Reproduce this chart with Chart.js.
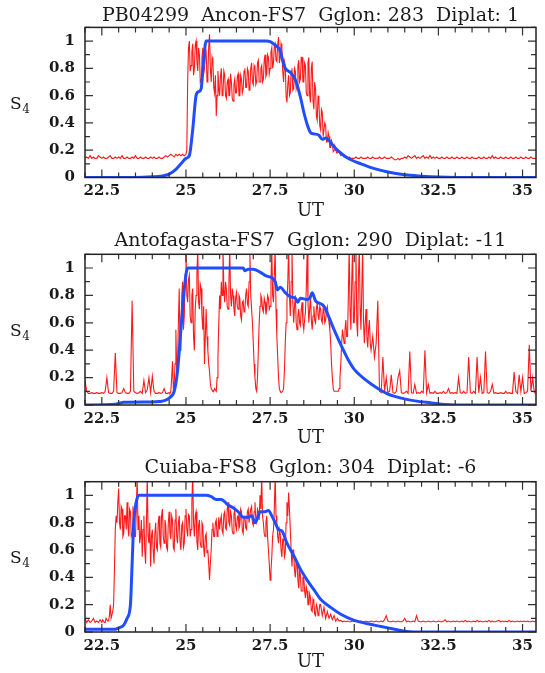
<!DOCTYPE html>
<html><head><meta charset="utf-8">
<script src="https://cdn.jsdelivr.net/npm/chart.js@4/dist/chart.umd.min.js"></script>
<style>
html,body{margin:0;padding:0;background:#fff;width:545px;height:673px;overflow:hidden}
.panel{position:absolute;left:0;width:545px}
</style></head><body>
<script>
// ---- axis values ----
const utTicks = [22.5, 25, 27.5, 30, 32.5, 35];
const s4Ticks = [0, 0.2, 0.4, 0.6, 0.8, 1];
const utRange = [22, 35.4];
const s4Range = [0, 1.1];
const utMinorStep = 0.5;
const s4MinorStep = 0.1;

// ---- panel titles ----
const panelTitles = [
  'PB04299  Ancon-FS7  Gglon: 283  Diplat: 1',
  'Antofagasta-FS7  Gglon: 290  Diplat: -11',
  'Cuiaba-FS8  Gglon: 304  Diplat: -6'
];

// ---- observed S4 (red) ----
// quiet parts sampled every 0.05 h, scintillation bursts every 0.025 h
const quietStep = 0.05;
const burstStep = 0.025;

// Ancon
const anconPreStart = 22.0;
const anconPre = [
  0.14,0.15,0.14,0.16,0.14,0.15,0.14,0.14,0.16,0.15, // 22.0
  0.14,0.15,0.14,0.14,0.15,0.16,0.14,0.14,0.15,0.14, // 22.5
  0.15,0.14,0.16,0.14,0.14,0.15,0.14,0.14,0.15,0.14, // 23.0
  0.16,0.14,0.14,0.15,0.14,0.14,0.15,0.14,0.14,0.15, // 23.5
  0.14,0.15,0.14,0.14,0.15,0.14,0.14,0.15,0.16,0.15, // 24.0
  0.16,0.17,0.16,0.15,0.17,0.16,0.17,0.16,0.17,0.16  // 24.5
];
const anconBurstStart = 25.0;
const anconBurst = [
  0.17,0.2,0.7,0.95,1.0,0.78,0.82,0.92,0.98,0.75,0.8,0.97,1.0,0.85,0.78,0.95,0.9,0.7,0.72,0.88, // 25.0
  0.95,0.76,0.8,0.9,0.92,0.7,0.75,0.96,1.05,0.8,0.7,0.88,0.85,0.66,0.62,0.75,0.45,0.6,0.78,0.66, // 25.5
  0.6,0.74,0.8,0.6,0.62,0.78,0.75,0.6,0.58,0.7,0.72,0.6,0.6,0.76,0.7,0.58,0.56,0.68,0.72,0.62, // 26.0
  0.62,0.74,0.76,0.6,0.6,0.75,0.72,0.62,0.65,0.78,0.8,0.66,0.66,0.8,0.78,0.64,0.65,0.8,0.84,0.7, // 26.5
  0.68,0.82,0.8,0.68,0.7,0.84,0.86,0.7,0.7,0.8,0.82,0.7,0.72,0.86,0.9,0.74,0.76,0.9,0.88,0.76, // 27.0
  0.8,0.92,0.95,0.8,0.84,0.96,0.98,0.86,0.85,0.97,1.03,0.84,0.88,0.98,0.95,0.78,0.7,0.85,0.82,0.6, // 27.5
  0.55,0.68,0.75,0.6,0.62,0.78,0.8,0.64,0.65,0.8,0.78,0.65,0.68,0.82,0.86,0.7,0.72,0.88,0.88,0.7, // 28.0
  0.7,0.84,0.82,0.62,0.6,0.84,0.88,0.6,0.55,0.8,0.85,0.56,0.5,0.7,0.65,0.45,0.42,0.6,0.55,0.38, // 28.5
  0.35,0.5,0.48,0.3,0.3,0.4,0.38,0.26,0.26,0.33,0.3,0.22,0.22,0.27,0.25,0.19,0.2,0.23,0.21,0.18  // 29.0
];
const anconPostStart = 29.5;
const anconPost = [
  0.18,0.19,0.16,0.17,0.15,0.15,0.14,0.15,0.14,0.14, // 29.5
  0.14,0.15,0.14,0.14,0.15,0.14,0.14,0.14,0.15,0.14, // 30.0
  0.14,0.15,0.14,0.14,0.14,0.15,0.14,0.14,0.15,0.14, // 30.5
  0.14,0.14,0.15,0.14,0.13,0.13,0.14,0.13,0.14,0.14, // 31.0
  0.15,0.14,0.16,0.15,0.14,0.15,0.16,0.14,0.15,0.14, // 31.5
  0.15,0.16,0.14,0.15,0.14,0.16,0.14,0.15,0.14,0.15, // 32.0
  0.14,0.14,0.15,0.14,0.14,0.15,0.14,0.14,0.15,0.14, // 32.5
  0.14,0.15,0.14,0.14,0.15,0.14,0.14,0.15,0.14,0.14, // 33.0
  0.15,0.14,0.14,0.14,0.15,0.14,0.14,0.15,0.14,0.14, // 33.5
  0.15,0.14,0.16,0.14,0.15,0.14,0.14,0.15,0.14,0.14, // 34.0
  0.15,0.14,0.14,0.15,0.14,0.14,0.15,0.14,0.14,0.15, // 34.5
  0.14,0.14,0.15,0.14,0.14,0.15,0.14,0.14,0.14,0.14  // 35.0
];

// Antofagasta
const antofPreStart = 22.0;
const antofPre = [
  0.18,0.1,0.085,0.085,0.09,0.085,0.085,0.09,0.085,0.085, // 22.0
  0.09,0.085,0.1,0.2,0.09,0.085,0.085,0.1,0.38,0.09,      // 22.5
  0.085,0.085,0.09,0.12,0.09,0.085,0.085,0.1,0.76,0.1,    // 23.0
  0.09,0.085,0.09,0.1,0.085,0.18,0.09,0.11,0.2,0.09,      // 23.5
  0.21,0.1,0.085,0.085,0.09,0.085,0.09,0.12,0.085,0.085   // 24.0
];
const antofBurstStart = 24.5;
const antofBurst = [
  0.09,0.085,0.1,0.2,0.32,0.12,0.15,0.3,0.55,0.25,0.3,0.6,0.85,0.4,0.5,0.8,0.9,0.55,0.65,0.95, // 24.5
  1.15,0.8,0.75,0.92,0.95,0.65,0.6,0.8,0.85,0.5,0.4,0.7,0.8,0.95,1.15,0.75,0.7,0.88,0.85,0.65, // 25.0
  0.55,0.72,0.3,0.5,0.7,0.5,0.4,0.3,0.25,0.15,0.12,0.11,0.1,0.1,0.12,0.11,0.1,0.2,0.35,0.6,    // 25.5
  0.8,0.7,0.9,0.8,1.15,0.85,0.75,0.9,0.85,0.72,0.7,0.88,1.15,0.8,0.72,0.85,0.8,0.7,0.65,0.78,  // 26.0
  0.82,0.72,0.7,0.8,0.78,0.65,0.62,0.75,0.76,0.68,0.7,0.8,0.85,0.74,0.72,0.9,1.1,0.8,0.7,0.6,  // 26.5
  0.45,0.3,0.2,0.12,0.1,0.2,0.4,0.6,0.72,0.8,0.78,0.7,0.68,0.78,0.75,0.66,0.7,0.8,0.78,0.7,    // 27.0
  0.72,0.9,1.15,0.8,0.75,0.95,1.15,0.7,0.5,0.35,0.2,0.12,0.1,0.09,0.09,0.1,0.12,0.25,0.45,0.6, // 27.5
  0.75,0.9,1.15,0.8,0.65,0.9,1.15,0.75,0.6,0.72,0.8,0.6,0.55,0.65,0.7,0.6,0.58,0.7,0.75,0.6,   // 28.0
  0.55,0.62,0.68,0.85,1.1,0.75,0.6,0.7,0.8,0.62,0.55,0.65,0.72,0.62,0.6,0.7,0.75,0.66,0.62,0.72, // 28.5
  0.7,0.62,0.6,0.7,0.68,0.6,0.62,0.7,0.72,0.65,0.6,0.55,0.45,0.3,0.2,0.12,0.1,0.1,0.1,0.1,     // 29.0
  0.1,0.1,0.12,0.2,0.3,0.45,0.55,0.5,0.45,0.55,0.62,0.5,0.5,0.8,1.15,0.7,0.55,0.9,1.15,0.6,    // 29.5
  0.6,0.9,1.15,0.6,0.5,0.95,1.15,0.7,0.55,0.85,1.15,0.6,0.45,0.6,0.7,0.5,0.42,0.55,0.62,0.45   // 30.0
];
const antofPostStart = 30.5;
const antofPost = [
  0.4,0.5,0.35,0.45,0.76,0.1,0.09,0.35,0.1,0.2,           // 30.5
  0.09,0.1,0.22,0.09,0.085,0.1,0.2,0.25,0.09,0.085,       // 31.0
  0.09,0.1,0.085,0.39,0.09,0.085,0.15,0.085,0.09,0.085,   // 31.5
  0.1,0.09,0.4,0.09,0.15,0.085,0.09,0.085,0.1,0.085,      // 32.0
  0.085,0.09,0.085,0.1,0.085,0.09,0.12,0.085,0.09,0.085,  // 32.5
  0.09,0.085,0.2,0.09,0.085,0.1,0.085,0.09,0.35,0.09,     // 33.0
  0.085,0.1,0.085,0.35,0.09,0.2,0.085,0.09,0.39,0.09,     // 33.5
  0.085,0.1,0.15,0.085,0.09,0.085,0.085,0.09,0.085,0.085, // 34.0
  0.1,0.085,0.09,0.085,0.085,0.24,0.1,0.085,0.22,0.1,     // 34.5
  0.2,0.085,0.09,0.1,0.44,0.1,0.2,0.09,0.085,0.09         // 35.0
];

// Cuiaba
const cuiabaPreStart = 22.0;
const cuiabaPre = [
  0.1,0.07,0.09,0.07,0.08,0.1,0.07,0.08,0.07,0.09         // 22.0
];
const cuiabaBurstStart = 22.5;
const cuiabaBurst = [
  0.07,0.09,0.08,0.07,0.07,0.1,0.1,0.08,0.08,0.12,0.2,0.1,0.1,0.15,0.2,0.45,0.75,0.85,0.8,0.95, // 22.5
  1.05,0.8,0.75,0.92,0.9,0.7,0.72,0.85,0.85,0.75,0.95,0.78,0.7,0.9,0.88,0.7,0.72,0.92,0.8,0.7,  // 23.0
  0.7,0.9,1.15,0.75,0.85,0.65,0.7,0.82,0.55,0.75,0.85,0.6,0.5,0.8,1.15,0.7,0.65,0.8,0.48,0.7,   // 23.5
  0.75,0.6,0.5,0.72,0.8,0.62,0.6,0.8,0.85,0.65,0.62,0.85,0.9,0.7,0.65,0.82,0.78,0.62,0.6,0.8,   // 24.0
  0.88,0.72,0.68,0.85,0.82,0.62,0.6,0.82,0.9,0.7,0.65,0.8,0.85,0.66,0.6,0.78,0.8,0.62,0.65,0.85, // 24.5
  0.9,0.75,0.7,0.86,0.85,0.7,0.75,0.95,1.15,0.8,0.7,0.85,0.88,0.66,0.6,0.78,0.82,0.65,0.62,0.8,  // 25.0
  0.78,0.62,0.55,0.7,0.72,0.58,0.6,0.5,0.38,0.5,0.6,0.75,0.8,0.7,0.7,0.8,0.82,0.7,0.72,0.84,    // 25.5
  0.75,0.82,0.85,0.74,0.72,0.86,0.88,0.76,0.75,0.9,0.95,0.8,0.78,0.88,0.85,0.74,0.72,0.86,0.9,0.78, // 26.0
  0.75,0.84,0.85,0.76,0.78,0.9,0.88,0.74,0.72,0.84,0.85,0.76,0.75,0.88,0.9,0.8,0.8,0.9,0.92,0.8, // 26.5
  0.78,0.88,0.95,0.82,0.8,0.9,0.88,0.82,1.0,0.9,1.15,0.85,0.8,0.72,0.7,0.8,0.85,0.7,0.6,0.5,    // 27.0
  0.38,0.45,0.55,0.7,0.75,0.9,1.15,0.85,0.8,0.7,0.65,0.75,0.72,0.6,0.55,0.68,0.68,0.55,0.58,0.8, // 27.5
  0.95,0.85,1.02,0.9,0.75,0.6,0.48,0.6,0.6,0.45,0.4,0.52,0.5,0.38,0.32,0.45,0.42,0.3,0.3,0.4,   // 28.0
  0.4,0.3,0.25,0.33,0.3,0.2,0.2,0.28,0.25,0.16,0.15,0.24,0.22,0.13,0.12,0.2,0.18,0.12,0.14,0.2  // 28.5
];
const cuiabaPostStart = 29.0;
const cuiabaPost = [
  0.2,0.12,0.18,0.1,0.15,0.1,0.13,0.09,0.12,0.08,         // 29.0
  0.1,0.08,0.085,0.075,0.08,0.075,0.08,0.075,0.075,0.08,  // 29.5
  0.075,0.08,0.075,0.075,0.08,0.075,0.075,0.08,0.075,0.075, // 30.0
  0.08,0.075,0.075,0.08,0.075,0.075,0.08,0.075,0.09,0.12, // 30.5
  0.08,0.075,0.075,0.08,0.075,0.075,0.08,0.075,0.075,0.08, // 31.0
  0.1,0.075,0.08,0.075,0.075,0.08,0.075,0.12,0.08,0.075,  // 31.5
  0.075,0.08,0.075,0.075,0.08,0.075,0.075,0.08,0.075,0.075, // 32.0
  0.08,0.075,0.075,0.08,0.09,0.075,0.08,0.075,0.075,0.08, // 32.5
  0.075,0.08,0.075,0.075,0.08,0.075,0.085,0.075,0.08,0.075, // 33.0
  0.075,0.08,0.075,0.085,0.075,0.08,0.075,0.075,0.08,0.075, // 33.5
  0.085,0.075,0.08,0.075,0.075,0.08,0.085,0.075,0.08,0.075, // 34.0
  0.08,0.075,0.085,0.075,0.08,0.075,0.075,0.08,0.075,0.08, // 34.5
  0.075,0.08,0.075,0.08,0.075,0.075,0.08,0.075,0.08,0.075  // 35.0
];

// ---- model S4 (blue) ----
const anconModelUT = [22,23.5,24.0,24.3,24.5,24.7,24.85,25.0,25.1,25.2,25.3,25.38,25.45,25.52,25.6,27.4,27.5,27.6,27.7,27.8,27.88,27.95,28.1,28.2,28.3,28.4,28.5,28.6,28.7,28.8,28.95,29.05,29.15,29.25,29.35,29.5,29.7,29.9,30.2,30.6,31.0,31.5,32.0,32.5,33.0,35.4];
const anconModelS4 = [0,0,0.005,0.012,0.025,0.06,0.1,0.14,0.16,0.35,0.6,0.63,0.65,0.85,1.0,1.0,0.995,0.98,0.96,0.93,0.85,0.8,0.77,0.74,0.68,0.59,0.48,0.39,0.33,0.32,0.31,0.28,0.29,0.27,0.24,0.2,0.16,0.13,0.1,0.065,0.04,0.02,0.01,0.003,0,0];

const antofModelUT = [22,22.9,23.05,23.15,24.0,24.2,24.4,24.55,24.65,24.75,24.85,24.95,25.05,26.7,26.75,26.85,27.0,27.2,27.4,27.55,27.65,27.72,27.8,27.95,28.1,28.25,28.32,28.4,28.6,28.68,28.75,28.85,29.0,29.1,29.25,29.4,29.6,29.8,30.0,30.3,30.7,31.0,31.4,31.8,32.3,32.7,33.0,35.4];
const antofModelS4 = [0,0.005,0.015,0.02,0.022,0.025,0.035,0.06,0.1,0.25,0.55,0.85,1.0,1.0,0.98,0.99,0.99,0.97,0.94,0.93,0.9,0.84,0.86,0.82,0.79,0.78,0.75,0.78,0.77,0.78,0.82,0.76,0.74,0.72,0.64,0.55,0.44,0.34,0.26,0.19,0.12,0.08,0.05,0.03,0.015,0.003,0,0];

const cuiabaModelUT = [22,22.9,23.0,23.15,23.25,23.35,23.4,23.45,23.55,23.62,25.6,25.75,25.9,26.05,26.25,26.4,26.55,26.7,26.85,26.95,27.05,27.15,27.2,27.35,27.45,27.55,27.65,27.75,27.85,28.0,28.2,28.4,28.6,28.8,29.0,29.3,29.6,30.0,30.4,30.8,31.2,31.5,31.8,35.4];
const cuiabaModelS4 = [0.02,0.02,0.03,0.05,0.1,0.2,0.5,0.8,0.98,1.0,1.0,0.99,0.97,0.97,0.93,0.91,0.88,0.84,0.84,0.85,0.8,0.85,0.88,0.88,0.89,0.85,0.8,0.75,0.74,0.65,0.56,0.46,0.38,0.31,0.24,0.18,0.13,0.085,0.06,0.04,0.02,0.005,0,0];

// ---- assemble per panel ----
const obsSegments = [
  [[anconPreStart, quietStep, anconPre], [anconBurstStart, burstStep, anconBurst], [anconPostStart, quietStep, anconPost]],
  [[antofPreStart, quietStep, antofPre], [antofBurstStart, burstStep, antofBurst], [antofPostStart, quietStep, antofPost]],
  [[cuiabaPreStart, quietStep, cuiabaPre], [cuiabaBurstStart, burstStep, cuiabaBurst], [cuiabaPostStart, quietStep, cuiabaPost]]
];
const modelUT = [anconModelUT, antofModelUT, cuiabaModelUT];
const modelS4 = [anconModelS4, antofModelS4, cuiabaModelS4];

// ---- layout of the three stacked panels (pixels) ----
const panelBoxes = [
  {top: 0,   h: 224, tTop: 4.6, tBot: 0,   xH: 46.5, utPad: 2.2},
  {top: 224, h: 226, tTop: 5.6, tBot: 1.9, xH: 45,   utPad: 1.2},
  {top: 450, h: 223, tTop: 6.6, tBot: 2.3, xH: 41,   utPad: 0}
];

const SERIF = '"DejaVu Serif", "Liberation Serif", serif';
const INK = '#1a1a1a';

const frameTicks = {
  id: 'frameTicks',
  afterDatasetsDraw(chart) {
    const {ctx, chartArea: a, scales: {x, y}} = chart;
    ctx.save();
    ctx.strokeStyle = '#333';
    ctx.lineWidth = 1.2;
    ctx.beginPath();
    const k0 = Math.ceil(x.min / utMinorStep - 1e-9), k1 = Math.floor(x.max / utMinorStep + 1e-9);
    for (let k = k0; k <= k1; k++) {
      const v = k * utMinorStep;
      const px = x.getPixelForValue(v);
      const major = utTicks.some(t => Math.abs(t - v) < 1e-6);
      const L = major ? 8 : 5;
      ctx.moveTo(px, a.bottom); ctx.lineTo(px, a.bottom - L);
      ctx.moveTo(px, a.top); ctx.lineTo(px, a.top + L);
    }
    const j0 = Math.ceil(y.min / s4MinorStep - 1e-9), j1 = Math.floor(y.max / s4MinorStep + 1e-9);
    for (let j = j0; j <= j1; j++) {
      const v = j * s4MinorStep;
      const py = y.getPixelForValue(v);
      const major = s4Ticks.some(t => Math.abs(t - v) < 1e-6);
      const L = major ? 8 : 5;
      ctx.moveTo(a.left, py); ctx.lineTo(a.left + L, py);
      ctx.moveTo(a.right, py); ctx.lineTo(a.right - L, py);
    }
    ctx.stroke();
    ctx.lineWidth = 1.5;
    ctx.strokeStyle = '#222';
    ctx.strokeRect(a.left, a.top, a.right - a.left, a.bottom - a.top);
    // y-axis label: S with subscript 4
    const midY = (a.top + a.bottom) / 2 + 2;
    ctx.fillStyle = INK;
    ctx.textBaseline = 'middle';
    ctx.textAlign = 'left';
    ctx.font = '17px ' + SERIF;
    ctx.fillText('S', 10, midY);
    const sw = ctx.measureText('S').width;
    ctx.font = '12px ' + SERIF;
    ctx.fillText('4', 10 + sw + 0.5, midY + 5);
    ctx.restore();
  }
};

panelBoxes.forEach((box, p) => {
  const div = document.createElement('div');
  div.className = 'panel';
  div.style.top = box.top + 'px';
  div.style.height = box.h + 'px';
  const cv = document.createElement('canvas');
  cv.width = 545; cv.height = box.h;
  cv.style.width = '545px'; cv.style.height = box.h + 'px';
  div.appendChild(cv);
  document.body.appendChild(div);

  const obs = [];
  obsSegments[p].forEach(([start, step, vals]) => {
    vals.forEach((v, i) => obs.push({x: start + i * step, y: v}));
  });
  const model = modelUT[p].map((u, i) => ({x: u, y: modelS4[p][i]}));

  new Chart(cv, {
    type: 'line',
    data: {
      datasets: [
        {label: 'model', data: model, borderColor: '#1f4dff', borderWidth: 3,
         pointRadius: 0, cubicInterpolationMode: 'monotone', order: 0},
        {label: 'observed', data: obs, borderColor: 'rgba(255,0,0,0.9)', borderWidth: 1.1,
         pointRadius: 0, tension: 0, order: 1}
      ]
    },
    options: {
      responsive: false,
      animation: false,
      devicePixelRatio: 1,
      layout: {padding: {left: 0, right: 9, top: 0, bottom: 0}},
      plugins: {
        legend: {display: false},
        tooltip: {enabled: false},
        title: {display: true, fullSize: false, text: panelTitles[p], color: INK,
                font: {family: SERIF, size: 19, weight: 'normal', lineHeight: 1.2},
                padding: {top: box.tTop, bottom: box.tBot}}
      },
      scales: {
        x: {
          type: 'linear', min: utRange[0], max: utRange[1],
          grid: {display: false, drawTicks: false},
          border: {display: false},
          afterBuildTicks: s => { s.ticks = utTicks.map(v => ({value: v})); },
          afterFit: s => { s.height = box.xH; },
          ticks: {color: INK, font: {family: SERIF, size: 15, weight: 'bold'}, padding: 5,
                  maxRotation: 0, autoSkip: false, callback: v => String(v)},
          title: {display: true, text: 'UT', color: INK,
                  font: {family: SERIF, size: 18, weight: 'normal', lineHeight: 1.2},
                  padding: {top: 0, bottom: box.utPad}}
        },
        y: {
          type: 'linear', min: s4Range[0], max: s4Range[1],
          grid: {display: false, drawTicks: false},
          border: {display: false},
          afterBuildTicks: s => { s.ticks = s4Ticks.map(v => ({value: v})); },
          afterFit: s => { s.width = 85; },
          ticks: {color: INK, font: {family: SERIF, size: 15, weight: 'bold'}, padding: 10,
                  autoSkip: false, callback: v => String(v)}
        }
      }
    },
    plugins: [frameTicks]
  });
});
</script>
</body></html>
